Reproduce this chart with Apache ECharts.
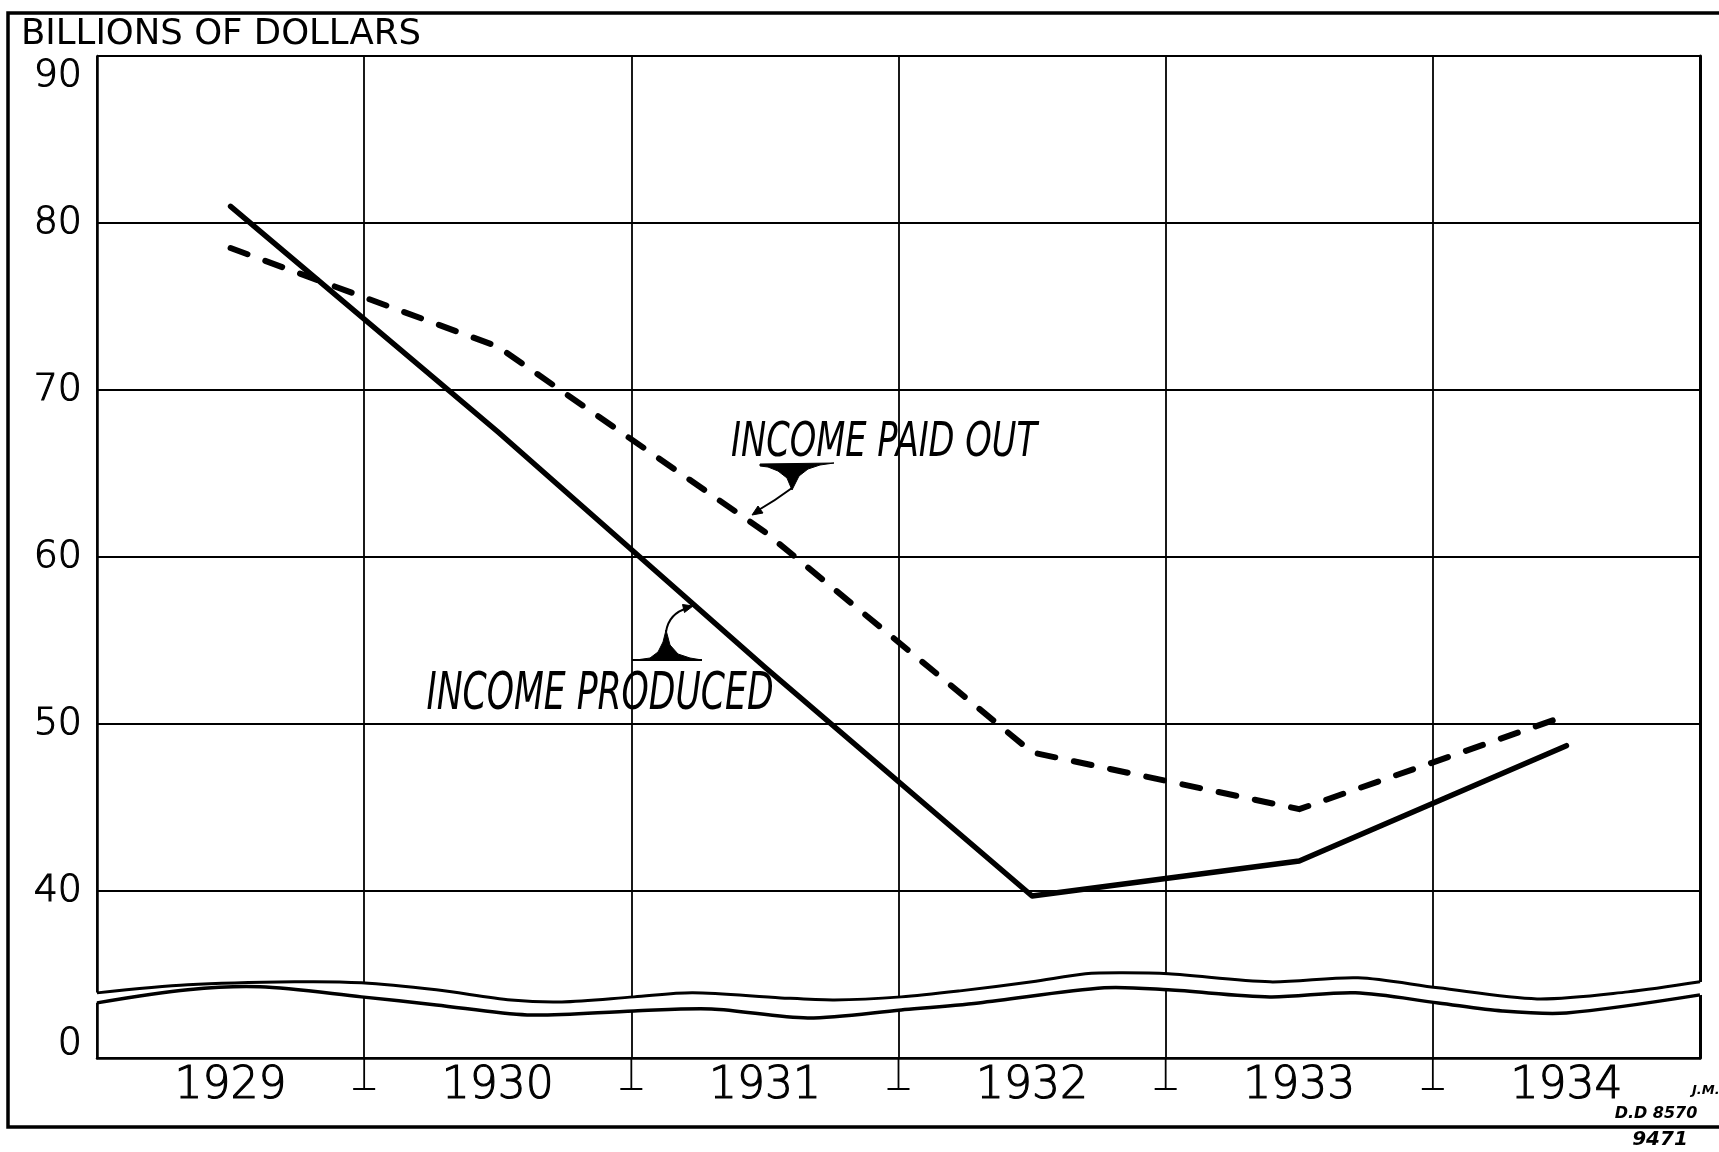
<!DOCTYPE html>
<html><head><meta charset="utf-8">
<script src="https://cdn.jsdelivr.net/npm/echarts@6/dist/echarts.min.js"></script>
<style>html,body{margin:0;padding:0;background:#fff}#c{width:1719px;height:1152px}</style>
</head><body><div id="c"></div>
<script>
// ---- data ----
const years = ['1929', '1930', '1931', '1932', '1933', '1934'];
const incomeProduced = [81.0, 67.5, 53.4, 39.7, 41.8, 48.7];
const incomePaidOut = [78.5, 72.6, 61.5, 48.3, 44.9, 50.5];
const yMin = 30, yMax = 90, yStep = 10;
const yTickLabels = {30: '0', 40: '40', 50: '50', 60: '60', 70: '70', 80: '80', 90: '90'};
const boundaryTicks = [1, 2, 3, 4, 5];
// axis-break wavy double line (x in category-band units, y in axis units)
const breakUpper = [[0,33.9],[0.34,34.38],[0.74,34.56],[0.99,34.5],[1.27,34.08],[1.55,33.48],[1.74,33.36],[2.01,33.66],[2.23,33.9],[2.56,33.6],[2.76,33.48],[3.01,33.66],[3.23,34.02],[3.5,34.56],[3.7,35.04],[3.84,35.1],[4.01,35.04],[4.39,34.56],[4.72,34.8],[5.02,34.2],[5.39,33.54],[5.73,33.96],[6,34.56]];
const breakLower = [[0,33.3],[0.34,34.08],[0.61,34.26],[0.99,33.66],[1.27,33.18],[1.61,32.58],[2.01,32.82],[2.3,32.94],[2.66,32.4],[3.01,32.88],[3.3,33.3],[3.77,34.2],[4.01,34.08],[4.39,33.66],[4.71,33.9],[5.02,33.3],[5.26,32.82],[5.5,32.7],[6,33.78]];

const chart = echarts.init(document.getElementById('c'), null, {renderer: 'canvas'});
const FONT = '"DejaVu Sans", "Liberation Sans", sans-serif';
const OBL = '"DejaVu Sans Condensed", "DejaVu Sans", sans-serif';
const thin = {fontFamily: FONT, fontWeight: 200, color: '#000', textBorderColor: '#000', textBorderWidth: 1.1};

const option = {
  backgroundColor: '#fff',
  animation: false,
  grid: {left: 97, right: 19, top: 56, bottom: 94, containLabel: false},
  xAxis: [{
    type: 'category', data: years, boundaryGap: true,
    axisLine: {show: true, lineStyle: {color: '#000', width: 2.5}},
    axisTick: {show: false},
    axisLabel: Object.assign({interval: 0, fontSize: 44, margin: 7}, thin),
    splitLine: {show: true, interval: 0, lineStyle: {color: '#000', width: 1.8}}
  }, {
    type: 'value', min: 0, max: 6, show: false
  }],
  yAxis: [{
    type: 'value', min: yMin, max: yMax, interval: yStep,
    axisLine: {show: true, lineStyle: {color: '#000', width: 2.5}},
    axisTick: {show: false},
    splitLine: {show: true, lineStyle: {color: '#000', width: 1.8}},
    axisLabel: Object.assign({
      margin: 15, fontSize: 38,
      formatter: function (v) {
        const t = yTickLabels[v];
        if (v === yMax) return '{d|' + t + '}';
        if (v === yMin) return '{u|' + t + '}';
        return t;
      },
      rich: {
        d: Object.assign({fontSize: 38, padding: [40, 0, 0, 0]}, thin),
        u: Object.assign({fontSize: 38, padding: [0, 0, 28, 0]}, thin)
      }
    }, thin)
  }, {
    type: 'value', min: yMin, max: yMax, interval: yStep, position: 'right',
    axisLine: {show: true, lineStyle: {color: '#000', width: 3}},
    axisTick: {show: false}, axisLabel: {show: false}, splitLine: {show: false}
  }],
  series: [{
    name: 'INCOME PRODUCED', type: 'line', data: incomeProduced, symbol: 'none', z: 5,
    lineStyle: {color: '#000', width: 5.5, cap: 'round', join: 'round'}
  }, {
    name: 'INCOME PAID OUT', type: 'line', data: incomePaidOut, symbol: 'none', z: 5,
    lineStyle: {color: '#000', width: 6, type: [18, 19], cap: 'round', join: 'round'}
  }, {
    type: 'custom', xAxisIndex: 1, yAxisIndex: 0, clip: false, z: 4, silent: true,
    data: [[0, yMin]], encode: {x: 0, y: 1},
    renderItem: function (params, api) {
      const up = breakUpper.map(p => api.coord(p));
      const lo = breakLower.map(p => api.coord(p));
      const poly = up.map(p => p.slice()).concat(lo.slice().reverse().map(p => p.slice()));
      poly[0][0] -= 3; poly[up.length - 1][0] += 3;
      poly[up.length][0] += 3; poly[poly.length - 1][0] -= 3;
      return {type: 'group', children: [
        {type: 'polygon', shape: {points: poly}, style: {fill: '#fff', stroke: null}},
        {type: 'polyline', shape: {points: up, smooth: 0.3}, style: {fill: null, stroke: '#000', lineWidth: 3}},
        {type: 'polyline', shape: {points: lo, smooth: 0.3}, style: {fill: null, stroke: '#000', lineWidth: 3.5}}
      ]};
    }
  }, {
    type: 'custom', xAxisIndex: 1, yAxisIndex: 0, clip: false, z: 4, silent: true,
    data: boundaryTicks.map(v => [v, yMin]), encode: {x: 0, y: 1},
    renderItem: function (params, api) {
      const p = api.coord([api.value(0), api.value(1)]);
      const L = 31, w = 11;
      return {type: 'group', children: [
        {type: 'line', shape: {x1: p[0], y1: p[1], x2: p[0], y2: p[1] + L}, style: {stroke: '#000', lineWidth: 1.8}},
        {type: 'line', shape: {x1: p[0] - w, y1: p[1] + L, x2: p[0] + w, y2: p[1] + L}, style: {stroke: '#000', lineWidth: 2}}
      ]};
    }
  }],
  graphic: [
    {type: 'rect', z: 10, silent: true, shape: {x: 8, y: 13, width: 1740, height: 1114},
      style: {fill: 'none', stroke: '#000', lineWidth: 3.5}},
    {type: 'text', z: 10, x: 21, y: 35, style: {text: 'BILLIONS OF DOLLARS', fontSize: 35.5, fontFamily: FONT,
      fill: '#000', align: 'left', verticalAlign: 'middle'}},
    {type: 'text', z: 10, x: 884, y: 444, scaleX: 0.78, style: {text: 'INCOME PAID OUT', fontSize: 48, fontFamily: OBL,
      fontStyle: 'oblique', fill: '#000', align: 'center', verticalAlign: 'middle'}},
    {type: 'text', z: 10, x: 600, y: 695, scaleX: 0.74, style: {text: 'INCOME PRODUCED', fontSize: 52, fontFamily: OBL,
      fontStyle: 'oblique', fill: '#000', align: 'center', verticalAlign: 'middle'}},
    // callout: paid out
    {type: 'polygon', z: 10, shape: {points: [[760,464],[834,463],[820,465],[808,469],[799,476],[792,490],[787,478],[778,471],[768,467],[760,466]]},
      style: {fill: '#000', stroke: '#000', lineWidth: 1}},
    {type: 'bezierCurve', z: 10, shape: {x1: 792, y1: 488, cpx1: 776, cpy1: 500, x2: 757, y2: 511},
      style: {fill: null, stroke: '#000', lineWidth: 2}},
    {type: 'polygon', z: 10, shape: {points: [[752,515],[758,506],[763,513]]}, style: {fill: '#000', stroke: '#000', lineWidth: 1}},
    // callout: produced
    {type: 'line', z: 10, shape: {x1: 632, y1: 660, x2: 702, y2: 660}, style: {stroke: '#000', lineWidth: 2}},
    {type: 'polygon', z: 10, shape: {points: [[636,660],[650,658],[658,652],[663,642],[666,630],[670,645],[678,654],[690,658],[702,660]]},
      style: {fill: '#000', stroke: '#000', lineWidth: 1}},
    {type: 'bezierCurve', z: 10, shape: {x1: 666, y1: 632, cpx1: 668, cpy1: 618, cpx2: 677, cpy2: 611, x2: 688, y2: 608},
      style: {fill: null, stroke: '#000', lineWidth: 2}},
    {type: 'polygon', z: 10, shape: {points: [[693,606],[684.5,612.5],[682.5,604.5]]}, style: {fill: '#000', stroke: '#000', lineWidth: 1}},
    // file marks
    {type: 'text', z: 10, x: 1692, y: 1091, style: {text: 'J.M.', fontSize: 13, fontFamily: FONT, fontWeight: 'bold',
      fontStyle: 'italic', fill: '#000', align: 'left', verticalAlign: 'middle'}},
    {type: 'text', z: 10, x: 1656, y: 1114, style: {text: 'D.D 8570', fontSize: 16, fontFamily: FONT, fontWeight: 'bold',
      fontStyle: 'italic', fill: '#000', align: 'center', verticalAlign: 'middle'}},
    {type: 'text', z: 10, x: 1660, y: 1140, style: {text: '9471', fontSize: 20, fontFamily: FONT, fontWeight: 'bold',
      fontStyle: 'italic', fill: '#000', align: 'center', verticalAlign: 'middle'}}
  ]
};
chart.setOption(option);
</script>
</body></html>
